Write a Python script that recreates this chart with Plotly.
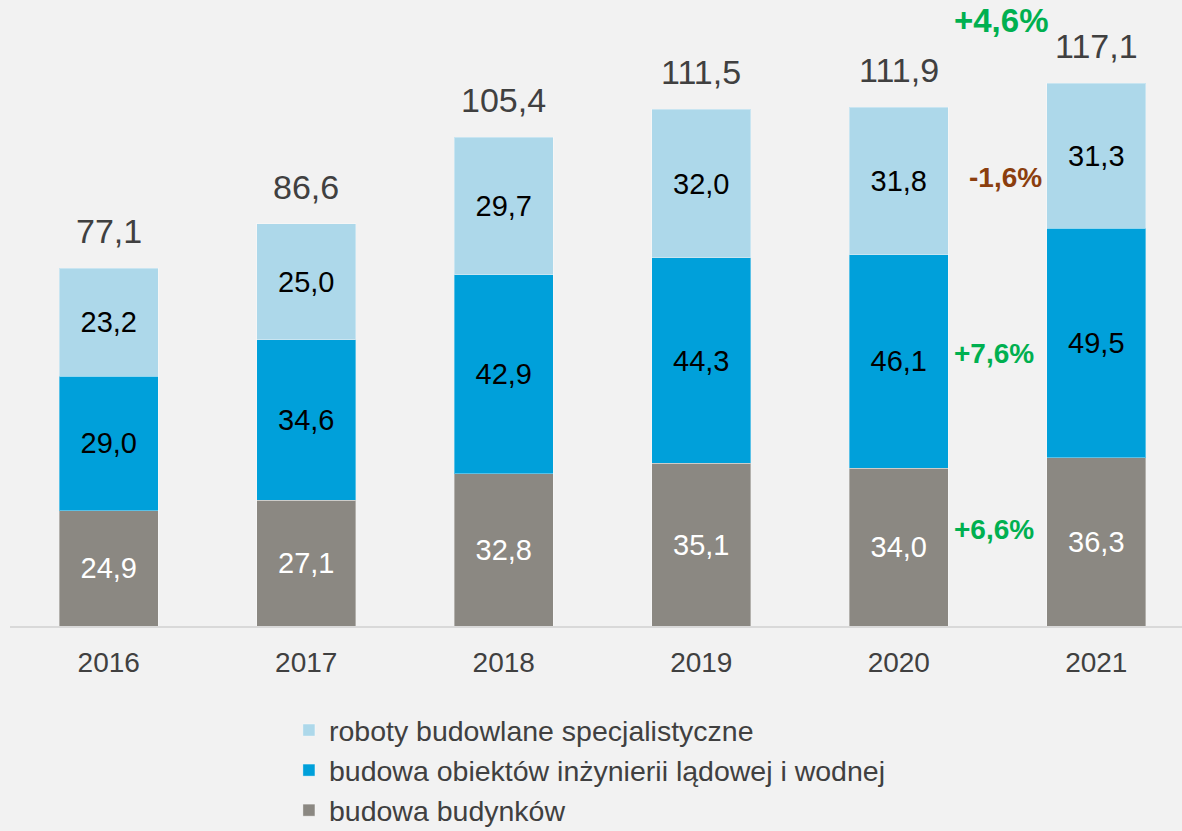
import plotly.graph_objects as go

years = ["2016", "2017", "2018", "2019", "2020", "2021"]
budynki = [24.9, 27.1, 32.8, 35.1, 34.0, 36.3]
inzynieria = [29.0, 34.6, 42.9, 44.3, 46.1, 49.5]
specjalistyczne = [23.2, 25.0, 29.7, 32.0, 31.8, 31.3]
totals = [77.1, 86.6, 105.4, 111.5, 111.9, 117.1]

names = ["budowa budynków", "budowa obiektów inżynierii lądowej i wodnej",
         "roboty budowlane specjalistyczne"]
colors = ["#8b8882", "#00a0da", "#add8ea"]
label_colors = ["#ffffff", "#000000", "#000000"]

growth_labels = ["+4,6%", "-1,6%", "+7,6%", "+6,6%"]
growth_x = [4.52, 4.54, 4.48, 4.48]
growth_y = [130.5, 96.8, 58.7, 20.9]
growth_colors = ["#00b050", "#8b3e0e", "#00b050", "#00b050"]
growth_sizes = [33, 28, 28, 28]

FONT = "Liberation Sans, Arial, sans-serif"

fig = go.Figure()
for vals, name, col, lcol in zip([budynki, inzynieria, specjalistyczne], names, colors, label_colors):
    fig.add_trace(go.Bar(
        x=years, y=vals, name=name, width=0.5,
        marker=dict(color=col, line=dict(color="rgba(255,255,255,0.35)", width=1)),
        texttemplate="%{y:.1f}", textposition="inside", insidetextanchor="middle",
        textfont=dict(size=29, color=lcol, family=FONT),
        hoverinfo="skip",
    ))

for i, t in enumerate(totals):
    fig.add_annotation(x=i, y=t, xref="x", yref="y", text=f"{t:.1f}".replace(".", ","),
                       showarrow=False, yanchor="bottom", yshift=16,
                       font=dict(size=34, color="#404040", family=FONT))

for txt, gx, gy, gc, gs in zip(growth_labels, growth_x, growth_y, growth_colors, growth_sizes):
    fig.add_annotation(x=gx, y=gy, text=f"<b>{txt}</b>", showarrow=False,
                       xanchor="center", yanchor="middle",
                       font=dict(size=gs, color=gc, family=FONT))

fig.update_layout(
    width=1182, height=831,
    barmode="stack", separators=", ",
    paper_bgcolor="#f2f2f2", plot_bgcolor="#f2f2f2",
    margin=dict(l=10, r=0, t=0, b=205),
    font=dict(family=FONT, color="#404040"),
    xaxis=dict(type="category", categoryorder="array", categoryarray=years,
               range=[-0.5, 5.434], showline=True, linecolor="#d9d9d9", linewidth=2,
               ticks="", ticklabelstandoff=10, tickfont=dict(size=28, color="#404040"),
               showgrid=False, zeroline=False, automargin=False),
    yaxis=dict(range=[0, 135], visible=False, showgrid=False, zeroline=False),
    showlegend=True,
    legend=dict(orientation="v", traceorder="reversed", x=0.238, xanchor="left",
                yref="container", y=0.1516, yanchor="top",
                font=dict(size=28.5, color="#404040"),
                bgcolor="rgba(0,0,0,0)", itemwidth=30, tracegroupgap=0),
)

fig.write_html("out.html", config={"displayModeBar": False},
               post_script="document.body.style.margin='0';document.body.style.overflow='hidden';")
